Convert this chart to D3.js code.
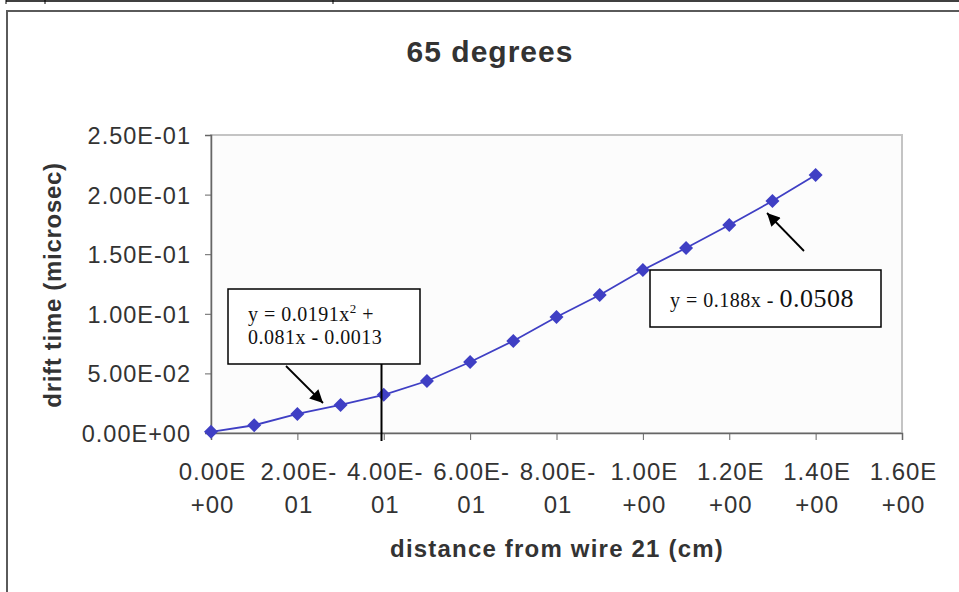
<!DOCTYPE html>
<head>
  <meta charset="UTF-8">
  <style>
    body { margin: 0; background: #fff; }
    svg { display: block; }
    text { font-family: "Liberation Sans", Arial, sans-serif; fill: #333; }
    .eq { font-family: "Liberation Serif", "Times New Roman", serif; fill: #111; }
  </style>
</head>
<body>
<script src="https://d3js.org/d3.v7.min.js"></script>
<script>
  // data
  var distance = [0, 0.1, 0.2, 0.3, 0.4, 0.5, 0.6, 0.7, 0.8, 0.9, 1.0, 1.1, 1.2, 1.3, 1.4];
  var driftTime = [0.001, 0.0065, 0.016, 0.0235, 0.032, 0.0436, 0.0596, 0.0772, 0.0973,
                   0.1158, 0.1368, 0.1552, 0.1745, 0.1946, 0.2164];

  var yTicks = [0, 0.05, 0.10, 0.15, 0.20, 0.25];
  var yTickLabels = ["0.00E+00", "5.00E-02", "1.00E-01", "1.50E-01", "2.00E-01", "2.50E-01"];
  var xTicks = [0, 0.2, 0.4, 0.6, 0.8, 1.0, 1.2, 1.4, 1.6];
  var xTickTop = ["0.00E", "2.00E-", "4.00E-", "6.00E-", "8.00E-", "1.00E", "1.20E", "1.40E", "1.60E"];
  var xTickBottom = ["+00", "01", "01", "01", "01", "+00", "+00", "+00", "+00"];

  var width = 959, height = 592;
  var margin = {top: 135, right: 57, bottom: 159, left: 211};
  var w = width - margin.left - margin.right,
      h = height - margin.top - margin.bottom;

  var svg = d3.select("body").append("svg")
    .attr("width", width)
    .attr("height", height);

  // outer frame bits
  svg.append("line").attr("x1", 6).attr("x2", 959).attr("y1", 1).attr("y2", 1)
    .attr("stroke", "#000").attr("stroke-width", 1.5);
  [6, 45, 333].forEach(function(px) {
    svg.append("line").attr("x1", px).attr("x2", px).attr("y1", 0).attr("y2", 4)
      .attr("stroke", "#000").attr("stroke-width", 1);
  });
  svg.append("path")
    .attr("d", "M7,600 L7,11 L960,11")
    .attr("fill", "none").attr("stroke", "#5a5a5a").attr("stroke-width", 2);

  var x = d3.scaleLinear().domain([0, 1.6]).range([0, w]);
  var y = d3.scaleLinear().domain([0, 0.25]).range([h, 0]);

  var g = svg.append("g")
    .attr("transform", "translate(" + margin.left + "," + margin.top + ")");

  // plot area
  g.append("rect")
    .attr("width", w).attr("height", h)
    .attr("fill", "#fcfcfc")
    .attr("stroke", "#c4c4c4").attr("stroke-width", 2);

  // axes
  var yAxis = d3.axisLeft(y).tickValues(yTicks).tickSize(6)
    .tickFormat(function(d, i) { return yTickLabels[i]; });
  var xAxis = d3.axisBottom(x).tickValues(xTicks).tickSize(7).tickFormat("");

  var gy = g.append("g").call(yAxis);
  gy.select(".domain").attr("stroke", "#666").attr("stroke-width", 1.5);
  gy.selectAll(".tick line").attr("stroke", "#666");
  gy.selectAll(".tick text")
    .attr("x", -20).attr("dy", "0.36em")
    .style("font-size", "23.5px").style("letter-spacing", "1px")
    .style("font-family", null).attr("fill", "#333");

  var gx = g.append("g").attr("transform", "translate(0," + h + ")").call(xAxis);
  gx.select(".domain").attr("stroke", "#666").attr("stroke-width", 1.5);
  gx.selectAll(".tick line").attr("stroke", "#666");
  gx.selectAll(".tick text").remove();
  gx.selectAll(".tick").each(function(d, i) {
    var t = d3.select(this);
    t.append("text").attr("x", 1).attr("y", 47).attr("text-anchor", "middle")
      .style("font-size", "24px").style("letter-spacing", "1px")
      .attr("fill", "#333").text(xTickTop[i]);
    t.append("text").attr("x", 1).attr("y", 80).attr("text-anchor", "middle")
      .style("font-size", "24px").style("letter-spacing", "1px")
      .attr("fill", "#333").text(xTickBottom[i]);
  });

  // series
  var pts = distance.map(function(d, i) { return {x: d, y: driftTime[i]}; });
  var line = d3.line().x(function(d) { return x(d.x); }).y(function(d) { return y(d.y); });
  g.append("path").datum(pts)
    .attr("d", line)
    .attr("fill", "none").attr("stroke", "#3f3fc4").attr("stroke-width", 1.8);

  g.selectAll(".pt").data(pts).enter().append("path")
    .attr("class", "pt")
    .attr("transform", function(d) { return "translate(" + x(d.x) + "," + y(d.y) + ")"; })
    .attr("d", "M0,-7 L7,0 L0,7 L-7,0 Z")
    .attr("fill", "#3f3fc4");

  // titles
  svg.append("text").attr("x", 490).attr("y", 62).attr("text-anchor", "middle")
    .style("font-size", "30px").style("letter-spacing", "1px")
    .style("font-weight", "bold").text("65 degrees");
  svg.append("text").attr("transform", "translate(61,285) rotate(-90)")
    .attr("text-anchor", "middle")
    .style("font-size", "24px").style("letter-spacing", "0.7px")
    .style("font-weight", "bold").text("drift time (microsec)");
  svg.append("text").attr("x", 557).attr("y", 557).attr("text-anchor", "middle")
    .style("font-size", "24px").style("letter-spacing", "1.2px")
    .style("font-weight", "bold").text("distance from wire 21 (cm)");

  // annotations
  var defs = svg.append("defs");
  defs.append("marker").attr("id", "arr")
    .attr("viewBox", "0 0 10 10").attr("refX", 10).attr("refY", 5)
    .attr("markerWidth", 15).attr("markerHeight", 13).attr("markerUnits", "userSpaceOnUse")
    .attr("orient", "auto")
    .append("path").attr("d", "M0,0 L10,5 L0,10 Z").attr("fill", "#000");

  svg.append("line").attr("x1", 381.5).attr("x2", 381.5).attr("y1", 364).attr("y2", 441)
    .attr("stroke", "#000").attr("stroke-width", 2);

  svg.append("rect").attr("x", 228).attr("y", 289).attr("width", 192).attr("height", 75)
    .attr("fill", "#fff").attr("stroke", "#000").attr("stroke-width", 1.5);
  var t1 = svg.append("text").attr("class", "eq").attr("x", 248).attr("y", 321)
    .style("font-size", "20px").style("letter-spacing", "0.5px");
  t1.append("tspan").text("y = 0.0191x");
  t1.append("tspan").attr("dy", -8).style("font-size", "13px").text("2");
  t1.append("tspan").attr("dy", 8).text(" +");
  svg.append("text").attr("class", "eq").attr("x", 248).attr("y", 344)
    .style("font-size", "20px").style("letter-spacing", "0.5px").text("0.081x - 0.0013");
  svg.append("line").attr("x1", 286).attr("y1", 366).attr("x2", 323).attr("y2", 403)
    .attr("stroke", "#000").attr("stroke-width", 1.8).attr("marker-end", "url(#arr)");

  svg.append("rect").attr("x", 650).attr("y", 270).attr("width", 231).attr("height", 57)
    .attr("fill", "#fff").attr("stroke", "#000").attr("stroke-width", 1.5);
  var t2 = svg.append("text").attr("class", "eq").attr("x", 670).attr("y", 307)
    .style("font-size", "20px").style("letter-spacing", "0.5px");
  t2.append("tspan").text("y = 0.188x - ");
  t2.append("tspan").style("font-size", "26px").text("0.0508");
  svg.append("line").attr("x1", 804).attr("y1", 251).attr("x2", 767).attr("y2", 213)
    .attr("stroke", "#000").attr("stroke-width", 1.8).attr("marker-end", "url(#arr)");
</script>
</body>
</html>
